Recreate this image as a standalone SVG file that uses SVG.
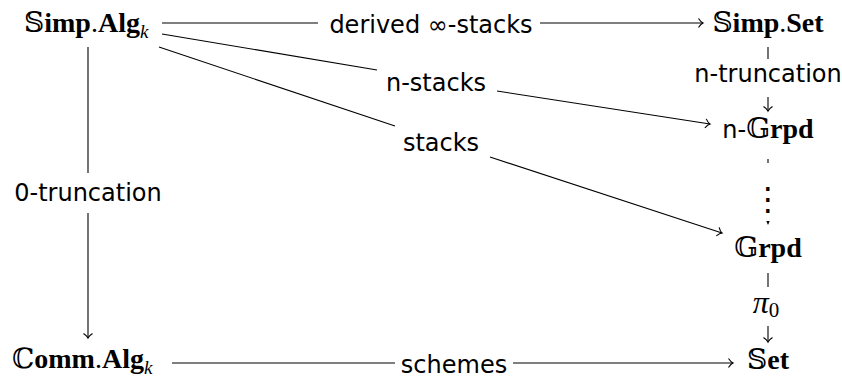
<svg xmlns="http://www.w3.org/2000/svg" width="842" height="378" viewBox="0 0 842 378">
<defs>
<style>
.node{font-family:"Liberation Serif","DejaVu Serif",serif;font-size:28px;fill:#000}
.bb{font-family:"DejaVu Serif","DejaVu Sans",serif;font-weight:normal}
.b{font-weight:bold}
.sub{font-style:italic;font-size:19px}
.lbl{font-family:"DejaVu Sans","Liberation Sans",sans-serif;font-size:24px;fill:#000}
.edge{stroke:#000;stroke-width:1.1;fill:none}
</style>
<marker id="to" viewBox="-7 -6 8 12" markerWidth="8" markerHeight="12" refX="0" refY="0" orient="auto" markerUnits="userSpaceOnUse" overflow="visible">
<path d="M-4.5,-4.5 C-2.5,-1.5 -1,-0.4 0,0 C-1,0.4 -2.5,1.5 -4.5,4.5" stroke="#000" stroke-width="1.1" fill="none"/>
</marker>
</defs>
<rect width="842" height="378" fill="#fff"/>
<g id="connectors">
<g id="e-derived">
<line class="edge" x1="162" y1="23" x2="318" y2="23"/>
<line class="edge" x1="540" y1="23" x2="703" y2="23" marker-end="url(#to)"/>
<text class="lbl" x="431" y="33" text-anchor="middle">derived ∞-stacks</text>
</g>
<g id="e-nstacks">
<line class="edge" x1="162" y1="34" x2="377" y2="70"/>
<line class="edge" x1="497" y1="91" x2="710" y2="124" marker-end="url(#to)"/>
<text class="lbl" x="436" y="91" text-anchor="middle">n-stacks</text>
</g>
<g id="e-stacks">
<line class="edge" x1="159" y1="47" x2="395" y2="126"/>
<line class="edge" x1="490" y1="157" x2="722" y2="233" marker-end="url(#to)"/>
<text class="lbl" x="441" y="151" text-anchor="middle">stacks</text>
</g>
<g id="e-0trunc">
<line class="edge" x1="88" y1="47" x2="88" y2="173"/>
<line class="edge" x1="88" y1="213" x2="88" y2="338" marker-end="url(#to)"/>
<text class="lbl" x="88" y="201" text-anchor="middle">0-truncation</text>
</g>
<g id="e-schemes">
<line class="edge" x1="172" y1="363" x2="395" y2="363"/>
<line class="edge" x1="513" y1="363" x2="733" y2="363" marker-end="url(#to)"/>
<text class="lbl" x="454" y="373" text-anchor="middle">schemes</text>
</g>
<g id="e-ntrunc">
<line class="edge" x1="768" y1="47" x2="768" y2="59"/>
<line class="edge" x1="768" y1="97" x2="768" y2="111" marker-end="url(#to)"/>
<text class="lbl" x="768" y="82" text-anchor="middle">n-truncation</text>
</g>
<g id="e-dots">
<line class="edge" x1="768" y1="159" x2="768" y2="163"/>
<polygon points="766.3,221 769.7,221 768,225" fill="#000"/>
<text x="768" y="210" text-anchor="middle" style="font-family:'Noto Sans CJK SC','DejaVu Sans',sans-serif;font-size:32px;fill:#000">⋮</text>
</g>
<g id="e-pi0">
<line class="edge" x1="768" y1="273" x2="768" y2="287"/>
<line class="edge" x1="768" y1="326" x2="768" y2="342" marker-end="url(#to)"/>
<text class="node" x="766" y="313" text-anchor="middle"><tspan font-style="italic" font-size="32">π</tspan><tspan font-size="21" dy="4">0</tspan></text>
</g>
</g>
<g id="n-simpalg"><text class="node" x="24" y="31.5"><tspan class="bb">𝕊</tspan><tspan class="b">imp</tspan>.<tspan class="b">Alg</tspan><tspan class="sub" dy="6">k</tspan></text></g>
<g id="n-simpset"><text class="node" x="768" y="31.5" text-anchor="middle"><tspan class="bb">𝕊</tspan><tspan class="b">imp</tspan>.<tspan class="b">Set</tspan></text></g>
<g id="n-ngrpd"><text class="node" x="768" y="138" text-anchor="middle"><tspan class="lbl">n-</tspan><tspan class="bb">𝔾</tspan><tspan class="b">rpd</tspan></text></g>
<g id="n-grpd"><text class="node" x="768" y="256.5" text-anchor="middle"><tspan class="bb">𝔾</tspan><tspan class="b">rpd</tspan></text></g>
<g id="n-set"><text class="node" x="768" y="369" text-anchor="middle"><tspan class="bb">𝕊</tspan><tspan class="b">et</tspan></text></g>
<g id="n-commalg"><text class="node" x="12" y="368"><tspan class="bb">ℂ</tspan><tspan class="b">omm</tspan>.<tspan class="b">Alg</tspan><tspan class="sub" dy="6">k</tspan></text></g>
</svg>
